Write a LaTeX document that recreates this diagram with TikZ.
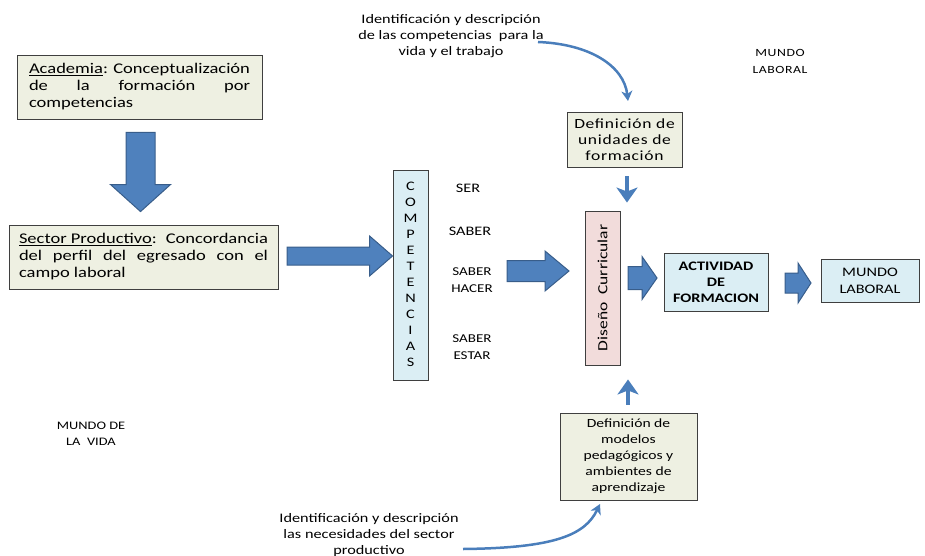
\documentclass[tikz,border=0pt]{standalone}
\usepackage{fontspec}
\setmainfont{Carlito}[FakeStretch=1.25]
\newfontfamily\trackedfont{Carlito}[FakeStretch=1.25,LetterSpace=5]
\usetikzlibrary{arrows.meta,calc}

\definecolor{paleolive}{HTML}{EEF0E2}
\definecolor{paleaqua}{HTML}{DBEEF4}
\definecolor{palerose}{HTML}{F2DCDB}
\definecolor{blockfill}{HTML}{4F81BD}
\definecolor{blockline}{HTML}{385D8A}
\definecolor{boxline}{HTML}{3F3F3F}
\definecolor{thinblue}{HTML}{4A7EBB}

% wide block arrow from #1 to tip #2: shaft half-width #3, head half-width #4, head length #5
\newcommand\blockarrow[5]{%
  \path ($(#2)!#5!(#1)$) coordinate (ba-h);
  \draw[blockstyle] ($(#1)!#3!90:(#2)$) -- ($(ba-h)!#3!-90:(#1)$)
    -- ($(ba-h)!#4!-90:(#1)$) -- (#2) -- ($(ba-h)!#4!90:(#1)$)
    -- ($(ba-h)!#3!90:(#1)$) -- ($(#1)!#3!-90:(#2)$) -- cycle;}

\tikzset{
  blockstyle/.style={fill=blockfill, draw=blockline, line width=1pt, line join=miter},
  panel/.style={draw=boxline, line width=0.9pt, inner sep=0pt, align=center},
  olivebox/.style={panel, fill=paleolive},
  aquabox/.style={panel, fill=paleaqua},
  rosebox/.style={panel, fill=palerose},
  label/.style={inner sep=0pt, align=center},
  stubarrow/.style={draw=thinblue, line width=4.5pt,
    -{Stealth[length=15pt,width=21pt,inset=4pt]}},
  curvearrow/.style={draw=thinblue, line width=2.5pt,
    -{Stealth[length=10pt,width=11pt,inset=3pt]}},
}

\begin{document}
\begin{tikzpicture}[x=1pt,y=-1pt]
\useasboundingbox (0,0) rectangle (925,556);

% left column
\node[olivebox, minimum width=245, minimum height=64] (acad) at (139.5,87)
  {\parbox{221pt}{\fontsize{14.8}{17}\selectfont
   \underline{Academia}: Conceptualización\linebreak
   de la formación por\linebreak competencias}};
\node[olivebox, minimum width=269, minimum height=64] (sect) at (143.5,257)
  {\parbox{249pt}{\fontsize{14.8}{17}\selectfont
   \underline{Sector Productivo}: Concordancia\linebreak
   del perfil del egresado con el\linebreak campo laboral}};

\node[label, font=\fontsize{11.5}{16}\selectfont] (vida) at (91,434)
  {MUNDO DE\\LA \ VIDA};

% competencias column
\node[aquabox, minimum width=35, minimum height=210] (comp) at (410.5,275)
  {\fontsize{13}{16}\selectfont\begin{tabular}{@{}c@{}}C\\O\\M\\P\\E\\T\\E\\N\\C\\I\\A\\S\end{tabular}};
\node[label, font=\fontsize{13}{17}\selectfont] (ser) at (468,188) {SER};
\node[label, font=\fontsize{13}{17}\selectfont] (saber) at (470,231) {SABER};
\node[label, font=\fontsize{12}{17}\selectfont] (hacer) at (472,280.5) {SABER\\HACER};
\node[label, font=\fontsize{12}{17}\selectfont] (estar) at (472,347) {SABER\\ESTAR};

% curriculum column
\node[rosebox, minimum width=35, minimum height=154] (dis) at (602.5,288) {};
\node[label, rotate=90, font=\fontsize{14}{17}\selectfont] (distext) at (dis.center)
  {Diseño \ Curricular};
\node[olivebox, minimum width=115, minimum height=55,
  font=\trackedfont\fontsize{14}{16}\selectfont] (uni) at (624.5,139.5)
  {Definición de\\unidades de\\formación};
\node[olivebox, minimum width=137, minimum height=87,
  font=\fontsize{12.5}{16}\selectfont] (mod) at (628.5,456.5)
  {Definición de\\modelos\\pedagógicos y\\ambientes de\\aprendizaje};

% outcome boxes
\node[aquabox, minimum width=104, minimum height=58,
  font=\bfseries\fontsize{13}{16}\selectfont] (act) at (716,282)
  {ACTIVIDAD\\DE\\FORMACION};
\node[aquabox, minimum width=98, minimum height=43,
  font=\fontsize{13}{17}\selectfont] (mundo) at (870,280.5)
  {MUNDO\\LABORAL};

% free texts
\node[label, font=\fontsize{13}{16}\selectfont] (toptext) at (451,36)
  {Identificación y descripción\\de las competencias \ para la\\vida y el trabajo};
\node[label, font=\trackedfont\fontsize{11}{17}\selectfont] (laboral) at (780,61.5)
  {MUNDO\\LABORAL};
\node[label, font=\fontsize{13}{16}\selectfont] (bottext) at (369,535)
  {Identificación y descripción\\las necesidades del sector\\productivo};

% block arrows
\path (acad.south) ++(1,13) coordinate (a1s) (sect.north) ++(-3,-13) coordinate (a1e);
\blockarrow{a1s}{a1e}{14.5pt}{30pt}{27pt}
\path (287,256) coordinate (a2s) (comp.west |- a2s) coordinate (a2e);
\blockarrow{a2s}{a2e}{9pt}{20pt}{23pt}
\path (507,271) coordinate (a3s) (569,271) coordinate (a3e);
\blockarrow{a3s}{a3e}{10.5pt}{20pt}{24pt}
\path (628,278) coordinate (a4s) (657,278) coordinate (a4e);
\blockarrow{a4s}{a4e}{11.5pt}{21.5pt}{15pt}
\path (785,283) coordinate (a5s) (811,283) coordinate (a5e);
\blockarrow{a5s}{a5e}{10pt}{20pt}{13pt}

% short stub arrows into the curriculum design
\draw[stubarrow] ($(uni.south)+(2.5,9)$) -- ($(dis.north)+(24.5,-8)$);
\draw[stubarrow] ($(mod.north)+(-0.5,-8)$) -- ($(dis.south)+(25.5,14)$);

% curved arrows from the identification texts
\coordinate (c1s) at (538,42);
\coordinate (c1e) at (628,101);
\draw[curvearrow] (c1s) .. controls (590,44) and (624,66) .. (c1e);
\coordinate (c2s) at (463,549);
\coordinate (c2e) at (600,504);
\draw[curvearrow] (c2s) .. controls (555,548) and (585,535) .. (c2e);
\end{tikzpicture}
\end{document}
